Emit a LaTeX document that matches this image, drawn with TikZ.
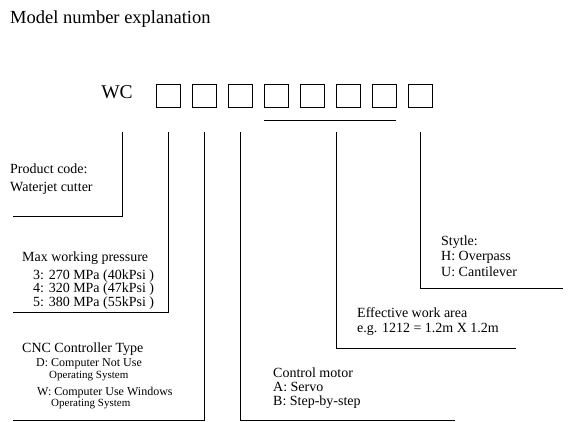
\documentclass[tikz,border=0pt]{standalone}
\usepackage{fontspec}
\setmainfont{Liberation Serif}
\usetikzlibrary{positioning, calc}

\begin{document}
\begin{tikzpicture}[
		x=1pt, y=-1pt,
		% Styles
		cell/.style={rectangle, draw=black, line width=0.9pt, minimum width=24pt, minimum height=23pt, inner sep=0pt},
		lead/.style={draw=black, line width=0.9pt},
		lbl/.style={anchor=base west, inner sep=0pt, font=\fontsize{14}{16}\selectfont},
		sml/.style={lbl, font=\fontsize{12}{13}\selectfont},
		smaller/.style={lbl, font=\fontsize{11}{12}\selectfont},
		big/.style={inner sep=0pt, font=\fontsize{18.5}{20}\selectfont}
	]
	\useasboundingbox (0,0) rectangle (576,421);

	% --- Title and model code ---
	\node[big, anchor=base west] (title) at (10,23) {Model number explanation};
	\node[big, font=\fontsize{19.5}{20}\selectfont] (wc) at (117,92) {WC};
	\foreach \i in {1,...,8}
		\node[cell] (b\i) at ({132+36*\i},95.5) {};

	% --- Line ends ---
	\coordinate (code_top) at (122,132);
	\coordinate (code_end) at (13,216);
	\coordinate (press_end) at (13,312);
	\coordinate (cnc_end) at (13,420);
	\coordinate (motor_end) at (455,420);
	\coordinate (area_end) at (516,348);
	\coordinate (style_end) at (563,288);

	% --- Labels ---
	\node[lbl] (code_title) at (10,173) {Product code:};
	\node[lbl] (code_name) at (10,191) {Waterjet cutter};

	\node[lbl] (press_title) at (22,261) {Max working pressure};
	\node[lbl] (press_3) at (33,279) {3: 270 MPa (40kPsi )};
	\node[lbl] (press_4) at (33,292.5) {4: 320 MPa (47kPsi )};
	\node[lbl] (press_5) at (33,306) {5: 380 MPa (55kPsi )};

	\node[lbl] (cnc_title) at (22,352) {CNC Controller Type};
	\node[sml] (cnc_d) at (36,366.5) {D: Computer Not Use};
	\node[smaller] (cnc_d_os) at (49,378) {Operating System};
	\node[sml] (cnc_w) at (37,395) {W: Computer Use Windows};
	\node[smaller] (cnc_w_os) at (51,406) {Operating System};

	\node[lbl] (motor_title) at (273,377) {Control motor};
	\node[lbl] (motor_a) at (273,391) {A: Servo};
	\node[lbl] (motor_b) at (273,405) {B: Step-by-step};

	\node[lbl] (area_title) at (357,317) {Effective work area};
	\node[lbl] (area_eg) at (357,332) {e.g. 1212 = 1.2m X 1.2m};

	\node[lbl] (style_title) at (441,245) {Stytle:};
	\node[lbl] (style_h) at (441,260) {H: Overpass};
	\node[lbl] (style_u) at (441,276) {U: Cantilever};

	% --- Leader lines ---
	\draw[lead] ([yshift=-13pt]b4.south west) -- ([yshift=-13pt]b7.south east);
	\draw[lead] (code_top) |- (code_end);
	\draw[lead] ([yshift=-25pt]b1.south) |- (press_end);
	\draw[lead] ([yshift=-25pt]b2.south) |- (cnc_end);
	\draw[lead] ([yshift=-25pt]b3.south) |- (motor_end);
	\draw[lead] ([xshift=1pt, yshift=-25pt]b6.south west) |- (area_end);
	\draw[lead] ([yshift=-25pt]b8.south) |- (style_end);

\end{tikzpicture}
\end{document}
